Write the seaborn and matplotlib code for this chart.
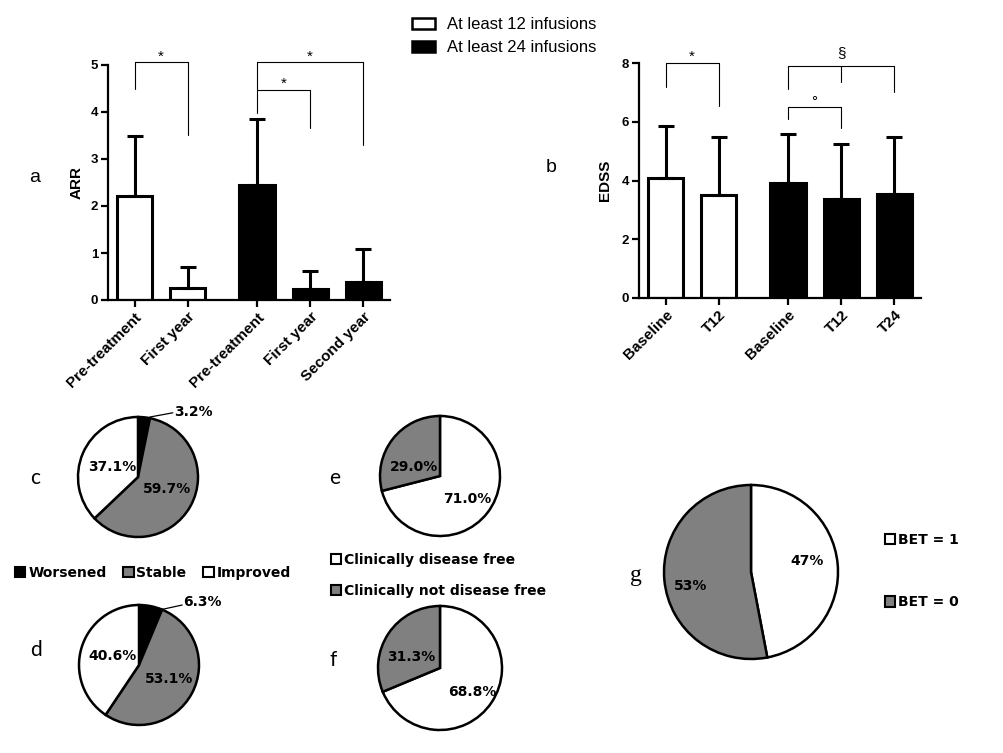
import numpy as np
import pandas as pd
import matplotlib
matplotlib.use('Agg')
import matplotlib.pyplot as plt
import seaborn as sns
from matplotlib.patches import Patch

sns.set_style('ticks')
plt.rcParams['font.family'] = ['Liberation Sans', 'DejaVu Sans']
plt.rcParams.update({'text.color': 'black', 'axes.labelcolor': 'black',
                     'xtick.color': 'black', 'ytick.color': 'black',
                     'axes.edgecolor': 'black'})

# ---- data ----
arr_labels = ['Pre-treatment', 'First year', 'Pre-treatment', 'First year', 'Second year']
arr_group = ['12', '12', '24', '24', '24']
arr_mean = [2.21, 0.26, 2.45, 0.23, 0.38]
arr_sd = [1.28, 0.44, 1.40, 0.39, 0.70]

edss_labels = ['Baseline', 'T12', 'Baseline', 'T12', 'T24']
edss_group = ['12', '12', '24', '24', '24']
edss_mean = [4.08, 3.50, 3.91, 3.37, 3.54]
edss_sd = [1.77, 1.98, 1.67, 1.87, 1.94]

group_names = {'12': 'At least 12 infusions', '24': 'At least 24 infusions'}

change_labels = ['Worsened', 'Stable', 'Improved']
change_12 = [3.2, 59.7, 37.1]
change_24 = [6.3, 53.1, 40.6]

free_labels = ['Clinically disease free', 'Clinically not disease free']
free_12 = [71.0, 29.0]
free_24 = [68.8, 31.3]

bet_labels = ['BET = 1', 'BET = 0']
bet_pct = [47, 53]

# ---- layout ----
W, H = 1004, 753
GRAY = '#808080'
bar_slots = [0, 1, 2.3, 3.3, 4.3]
group_colors = {'12': 'white', '24': 'black'}
pie_font = {'family': 'DejaVu Sans', 'weight': 'bold', 'size': 10, 'color': 'black'}
legend_font = {'family': 'DejaVu Sans', 'weight': 'bold', 'size': 10}

fig = plt.figure(figsize=(W / 100, H / 100), dpi=100)


def px_axes(left, top, width, height):
    return fig.add_axes([left / W, 1 - (top + height) / H, width / W, height / H])


def bar_panel(ax, labels, groups, means, sds, ymax, ystep, ylabel, label_x):
    df = pd.DataFrame({'slot': bar_slots, 'value': means, 'group': groups})
    sns.barplot(data=df, x='slot', y='value', hue='group', palette=group_colors,
                native_scale=True, dodge=False, width=0.66, edgecolor='black',
                linewidth=2.2, errorbar=None, legend=False, ax=ax)
    ax.errorbar(bar_slots, means, yerr=[np.zeros(len(sds)), sds], fmt='none',
                ecolor='black', elinewidth=2.2, capsize=6, capthick=2.2)
    ax.set_xlim(-0.5, 4.8)
    ax.set_ylim(0, ymax)
    ticks = np.arange(0, ymax + 0.1, ystep)
    ax.set_yticks(ticks)
    ax.set_yticklabels([f'{int(v)}' for v in ticks], fontweight='bold', fontsize=9.5)
    ax.set_xticks(bar_slots)
    ax.set_xticklabels(labels, rotation=45, ha='right', rotation_mode='anchor',
                       fontweight='bold', fontsize=11)
    ax.set_xlabel('')
    ax.set_ylabel(ylabel, fontsize=11, fontweight='bold')
    ax.yaxis.set_label_coords(label_x, 0.5)
    sns.despine(ax=ax)
    for s in ax.spines.values():
        s.set_linewidth(1.6)
    ax.tick_params(width=1.6, length=5, pad=2)
    ax.set_facecolor('none')


def bracket(ax, xs, top, ends, mark, mark_y):
    ax.plot([xs[0], xs[-1]], [top, top], color='black', lw=0.8, clip_on=False)
    for x, e in zip(xs, ends):
        ax.plot([x, x], [top, e], color='black', lw=0.8, clip_on=False)
    ax.text((xs[0] + xs[-1]) / 2, mark_y, mark, ha='center', va='baseline',
            fontsize=11, clip_on=False)


# panel a
ax_a = px_axes(108, 65, 282, 235)
bar_panel(ax_a, arr_labels, arr_group, arr_mean, arr_sd, 5, 1, 'ARR', -0.085)
bracket(ax_a, [bar_slots[0], bar_slots[1]], 5.06, [4.48, 3.5], '*', 5.1)
bracket(ax_a, [bar_slots[2], bar_slots[4]], 5.06, [3.98, 3.3], '*', 5.1)
bracket(ax_a, [bar_slots[2], bar_slots[3]], 4.47, [4.47, 3.65], '*', 4.51)

# panel b
ax_b = px_axes(639, 63, 282, 235)
bar_panel(ax_b, edss_labels, edss_group, edss_mean, edss_sd, 8, 2, 'EDSS', -0.096)
bracket(ax_b, [bar_slots[0], bar_slots[1]], 8.0, [7.2, 6.53], '*', 8.06)
bracket(ax_b, [bar_slots[2], bar_slots[3], bar_slots[4]], 7.9, [7.1, 7.35, 7.0], '\u00a7', 8.2)
bracket(ax_b, [bar_slots[2], bar_slots[3]], 6.5, [6.1, 5.8], '\u00b0', 6.52)

fig.legend(handles=[Patch(facecolor=group_colors[g], edgecolor='black', lw=1.8,
                          label=group_names[g]) for g in ['12', '24']],
           loc='upper left', bbox_to_anchor=(412 / W, 1 - 17 / H), frameon=False,
           fontsize=12, handlelength=1.4, handleheight=0.65, handletextpad=0.7,
           labelspacing=0.5, borderpad=0, borderaxespad=0)


def pie_panel(cx, cy, r, values, colors, label_xy, fmt, leader=None):
    pad = 1.1
    ax = px_axes(cx - r * pad, cy - r * pad, 2 * r * pad, 2 * r * pad)
    ax.pie(values, colors=colors, startangle=90, counterclock=False,
           wedgeprops=dict(edgecolor='black', linewidth=1.8))
    ax.set_xlim(-pad, pad)
    ax.set_ylim(-pad, pad)
    for v, (x, y) in zip(values, label_xy):
        ax.text(x, y, fmt.format(v), ha='center', va='center', fontdict=pie_font,
                clip_on=False)
    if leader is not None:
        ax.plot(leader[0], leader[1], color='black', lw=0.9, clip_on=False)
    return ax


change_colors = ['black', GRAY, 'white']
pie_panel(138, 477, 60, change_12, change_colors,
          [(0.93, 1.08), (0.48, -0.2), (-0.43, 0.17)], '{:.1f}%',
          leader=([0.2, 0.58], [1.0, 1.07]))
pie_panel(139, 665, 60, change_24, change_colors,
          [(1.05, 1.05), (0.5, -0.23), (-0.44, 0.15)], '{:.1f}%',
          leader=([0.4, 0.72], [0.93, 1.0]))

free_colors = ['white', GRAY]
pie_panel(440, 476, 60, free_12, free_colors, [(0.46, -0.38), (-0.43, 0.15)], '{:.1f}%')
pie_panel(440, 668, 62, free_24, free_colors, [(0.52, -0.39), (-0.47, 0.18)], '{:.1f}%')

pie_panel(751, 572, 87, bet_pct, free_colors, [(0.65, 0.13), (-0.69, -0.16)], '{}%')

fig.legend(handles=[Patch(facecolor=c, edgecolor='black', lw=1.5, label=l)
                    for c, l in zip(change_colors, change_labels)],
           ncol=3, loc='center left', bbox_to_anchor=(15 / W, 1 - 573 / H),
           prop=legend_font, frameon=False, handlelength=0.75, handleheight=0.75,
           handletextpad=0.2, columnspacing=1.2, borderpad=0, borderaxespad=0)
fig.legend(handles=[Patch(facecolor=c, edgecolor='black', lw=1.5, label=l)
                    for c, l in zip(free_colors, free_labels)],
           loc='center left', bbox_to_anchor=(331 / W, 1 - 575.5 / H),
           prop=legend_font, frameon=False, handlelength=0.75, handleheight=0.75,
           handletextpad=0.2, labelspacing=1.2, borderpad=0, borderaxespad=0)
fig.legend(handles=[Patch(facecolor=c, edgecolor='black', lw=1.5, label=l)
                    for c, l in zip(free_colors, bet_labels)],
           loc='center left', bbox_to_anchor=(885 / W, 1 - 571 / H),
           prop=legend_font, frameon=False, handlelength=0.75, handleheight=0.75,
           handletextpad=0.2, labelspacing=3.5, borderpad=0, borderaxespad=0)

# panel letters
fig.text(35 / W, 1 - 177 / H, 'a', fontsize=14, ha='center', va='center')
fig.text(551 / W, 1 - 168 / H, 'b', fontsize=14, ha='center', va='center')
for letter, (x, y) in zip('cdef', [(35, 478), (36, 650), (335, 478), (333, 660)]):
    fig.text(x / W, 1 - y / H, letter, fontsize=15, ha='center', va='center',
             family=['Lato', 'DejaVu Sans'])
fig.text(636 / W, 1 - 575 / H, 'g', fontsize=17, ha='center', va='center',
         family=['Liberation Serif', 'DejaVu Serif'])

fig.savefig('out.png', dpi=100, facecolor='white')
